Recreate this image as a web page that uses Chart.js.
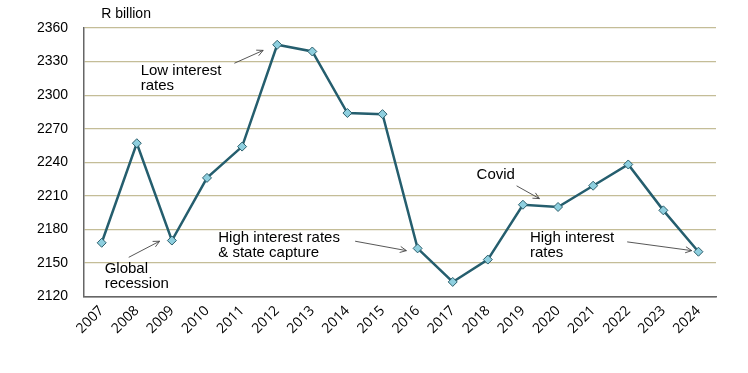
<!DOCTYPE html>
<html>
<head>
<meta charset="utf-8">
<script src="https://cdn.jsdelivr.net/npm/chart.js@4"></script>
<style>
  html, body { margin: 0; padding: 0; background: #fff; }
  #wrap { width: 748px; height: 373px; }
</style>
</head>
<body>
<div id="wrap"><canvas id="chart"></canvas></div>
<script>
// Data
const years = ['2007','2008','2009','2010','2011','2012','2013','2014','2015','2016','2017','2018','2019','2020','2021','2022','2023','2024'];
const values = [2168, 2257, 2170, 2226, 2254, 2345, 2339, 2284, 2283, 2163, 2133, 2153, 2202, 2200, 2219, 2238, 2197, 2160];
const yTicks = [2120, 2150, 2180, 2210, 2240, 2270, 2300, 2330, 2360];

// annotations: text lines, text anchor (year index + value), arrow from/to
const notes = [
    { lines: ['Low interest', 'rates'], tx: 1.11, ty: 2322, ax: [3.78, 2328.5], bx: [4.6, 2340] },
    { lines: ['Global', 'recession'], tx: 0.085, ty: 2144.3, ax: [0.77, 2155], bx: [1.65, 2169.4] },
    { lines: ['High interest rates', '& state capture'], tx: 3.32, ty: 2172.4, ax: [7.22, 2169.4], bx: [8.68, 2161] },
    { lines: ['Covid'], tx: 10.68, ty: 2228.8, ax: [11.82, 2218.9], bx: [12.47, 2207.5] },
    { lines: ['High interest', 'rates'], tx: 12.2, ty: 2172.4, ax: [14.97, 2168.8], bx: [16.81, 2161] }
];

const annotatePlugin = {
    id: 'annotate',
    afterDatasetsDraw(chart) {
        const ctx = chart.ctx;
        const xs = chart.scales.x, ys = chart.scales.y;
        ctx.save();
        ctx.fillStyle = '#000';
        ctx.textBaseline = 'middle';
        ctx.textAlign = 'left';
        ctx.font = '14px "Liberation Sans", Arial, sans-serif';
        ctx.fillText('R billion', chart.chartArea.left + 17, chart.chartArea.top - 14);
        ctx.font = '15px "Liberation Sans", Arial, sans-serif';
        notes.forEach(n => {
            const x = xs.getPixelForValue(n.tx);
            const y = ys.getPixelForValue(n.ty);
            n.lines.forEach((l, i) => ctx.fillText(l, x, y + i * 15));
            const x1 = xs.getPixelForValue(n.ax[0]), y1 = ys.getPixelForValue(n.ax[1]);
            const x2 = xs.getPixelForValue(n.bx[0]), y2 = ys.getPixelForValue(n.bx[1]);
            ctx.strokeStyle = '#444';
            ctx.lineWidth = 0.9;
            ctx.beginPath();
            ctx.moveTo(x1, y1);
            ctx.lineTo(x2, y2);
            ctx.stroke();
            const ang = Math.atan2(y2 - y1, x2 - x1);
            ctx.beginPath();
            ctx.moveTo(x2 - 7 * Math.cos(ang - 0.45), y2 - 7 * Math.sin(ang - 0.45));
            ctx.lineTo(x2, y2);
            ctx.lineTo(x2 - 7 * Math.cos(ang + 0.45), y2 - 7 * Math.sin(ang + 0.45));
            ctx.stroke();
        });
        ctx.restore();
    }
};

new Chart(document.getElementById('chart'), {
    type: 'line',
    data: {
        labels: years,
        datasets: [{
            data: values,
            borderColor: '#255e6e',
            borderWidth: 2.5,
            pointStyle: 'rectRot',
            pointRadius: 4.5,
            pointBackgroundColor: '#8ecfdf',
            pointBorderColor: '#2d5f6c',
            pointBorderWidth: 1,
            tension: 0
        }]
    },
    options: {
        responsive: true,
        maintainAspectRatio: false,
        animation: false,
        layout: { padding: { left: 21, right: 32, top: 28, bottom: 30 } },
        plugins: { legend: { display: false }, tooltip: { enabled: false } },
        scales: {
            x: {
                offset: true,
                grid: { display: false, drawTicks: false },
                border: { color: '#666', width: 1.5 },
                ticks: {
                    color: '#000',
                    font: { family: '"Open Sans", sans-serif', size: 14 },
                    maxRotation: 45, minRotation: 45, padding: 6
                }
            },
            y: {
                min: 2120, max: 2360,
                afterBuildTicks: axis => { axis.ticks = yTicks.map(v => ({ value: v })); },
                grid: {
                    color: ctx => ctx.tick && ctx.tick.value === 2120 ? '#666' : '#c4bd97',
                    lineWidth: 1.2,
                    drawTicks: false
                },
                border: { color: '#666', width: 1.5 },
                ticks: {
                    color: '#000',
                    font: { family: '"Liberation Sans", Arial, sans-serif', size: 14 },
                    padding: 16,
                    callback: v => String(v)
                }
            }
        }
    },
    plugins: [annotatePlugin]
});
</script>
</body>
</html>
